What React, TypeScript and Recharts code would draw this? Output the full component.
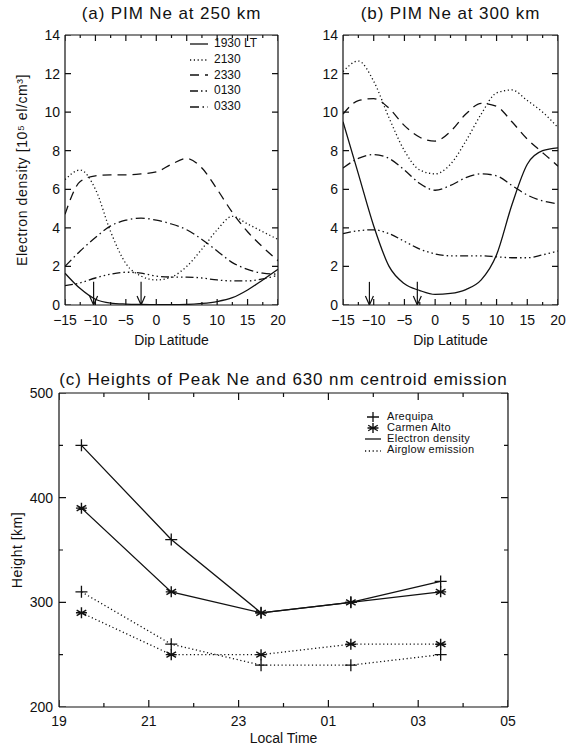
import React from 'react';
import { ComposedChart, Line, Scatter, XAxis, YAxis, ReferenceLine } from 'recharts';

const FONT = '"Liberation Sans", Arial, Helvetica, sans-serif';
const INK = '#111';

// dip latitude grid shared by both PIM panels
const latitudes = [-15, -12.5, -10, -7.5, -5, -2.5, 0, 2.5, 5, 7.5, 10, 12.5, 15, 17.5, 20];
const latMajorTicks = [-15, -10, -5, 0, 5, 10, 15, 20];
const latMinorTicks = [-12.5, -7.5, -2.5, 2.5, 7.5, 12.5, 17.5];
const neTicks = [0, 2, 4, 6, 8, 10, 12, 14];

// (a) PIM Ne at 250 km  [10^5 el/cm3]
const a1930 = [1.65, 0.85, 0.3, 0.1, 0.05, 0.03, 0.02, 0.02, 0.03, 0.08, 0.18, 0.38, 0.78, 1.3, 1.85];
const a2130 = [6.5, 7.0, 6.0, 3.8, 2.15, 1.5, 1.3, 1.45, 2.0, 2.9, 3.9, 4.6, 4.2, 3.8, 3.4];
const a2330 = [4.7, 6.4, 6.7, 6.75, 6.75, 6.8, 6.9, 7.3, 7.6, 7.1, 6.0, 4.8, 3.8, 3.0, 2.3];
const a0130 = [1.0, 1.15, 1.4, 1.6, 1.7, 1.65, 1.5, 1.45, 1.45, 1.4, 1.3, 1.25, 1.25, 1.35, 1.55];
const a0330 = [2.0, 2.8, 3.5, 4.1, 4.4, 4.5, 4.4, 4.2, 3.9, 3.4, 2.8, 2.2, 1.85, 1.65, 1.6];

// (b) PIM Ne at 300 km
const b1930 = [9.5, 6.8, 4.1, 2.0, 1.1, 0.75, 0.55, 0.6, 0.8, 1.3, 2.6, 5.2, 7.3, 8.0, 8.15];
const b2130 = [12.1, 12.65, 11.6, 9.7, 8.0, 7.0, 6.8, 7.3, 8.5, 9.9, 11.0, 11.15, 10.6, 10.0, 9.2];
const b2330 = [9.9, 10.6, 10.7, 10.2, 9.3, 8.7, 8.5, 9.0, 9.9, 10.45, 10.3, 9.5, 8.6, 7.9, 7.2];
const b0130 = [3.7, 3.85, 3.9, 3.7, 3.3, 2.9, 2.65, 2.55, 2.55, 2.55, 2.5, 2.45, 2.45, 2.6, 2.8];
const b0330 = [7.1, 7.6, 7.8, 7.6, 7.0, 6.3, 5.95, 6.2, 6.6, 6.8, 6.7, 6.2, 5.7, 5.4, 5.25];

// station latitudes marked with arrows
const arrowsA = [-10.3, -2.5];
const arrowsB = [-10.7, -2.9];
const arrowTop = 1.2;

// (c) heights vs local time (hours past 19 LT, 25 = 01 LT)
const localTimes = [19.5, 21.5, 23.5, 25.5, 27.5];
const arequipaNe = [450, 360, 290, 300, 320];
const carmenNe = [390, 310, 290, 300, 310];
const arequipaGlow = [310, 260, 240, 240, 250];
const carmenGlow = [290, 250, 250, 260, 260];
const timeMajorTicks = [19, 21, 23, 25, 27, 29];
const timeMinorTicks = [20, 22, 24, 26, 28];
const heightTicks = [200, 300, 400, 500];
const heightMinorTicks = [250, 350, 450];

const seriesStyles = [
  { key: 'lt1930', label: '1930 LT', dash: undefined as string | undefined },
  { key: 'lt2130', label: '2130', dash: '1.2 2.6' },
  { key: 'lt2330', label: '2330', dash: '9 6' },
  { key: 'lt0130', label: '0130', dash: '8 3 1.5 3 1.5 3 1.5 3' },
  { key: 'lt0330', label: '0330', dash: '9 3.5 1.5 3.5' },
];

const toRows = (cols: number[][]) =>
  latitudes.map((lat, i) => {
    const row: Record<string, number> = { lat };
    seriesStyles.forEach((s, k) => {
      row[s.key] = cols[k][i];
    });
    return row;
  });

const fmtLat = (v: number) => (v < 0 ? `\u2212${-v}` : `${v}`);
const fmtTime = (v: number) => String(v % 24).padStart(2, '0');

const tickStyle = { fill: INK, fontSize: 14, fontFamily: FONT };

// IDL style frame: top/right border plus inward ticks on all four sides.
// Each side's ticks are one broken Line series (null rows split the segments).
function frame(xKey: string, xDom: number[], yDom: number[], plotW: number, plotH: number,
  xMajor: number[], xMinor: number[], yMajor: number[], yMinor: number[], major: number, minor: number) {
  const ux = (xDom[1] - xDom[0]) / plotW;
  const uy = (yDom[1] - yDom[0]) / plotH;
  const vert = (list: number[], y0: number, dir: number, px: number) =>
    list.flatMap((v) => [{ [xKey]: v, tk: y0 }, { [xKey]: v, tk: y0 + dir * px * uy }, { [xKey]: v, tk: null }]);
  const horiz = (list: number[], x0: number, dir: number, px: number) =>
    list.flatMap((v) => [{ [xKey]: x0, tk: v }, { [xKey]: x0 + dir * px * ux, tk: v }, { [xKey]: x0, tk: null }]);
  const sets = [
    { id: 'bM', data: vert(xMajor, yDom[0], 1, major) },
    { id: 'tM', data: vert(xMajor, yDom[1], -1, major) },
    { id: 'bm', data: vert(xMinor, yDom[0], 1, minor) },
    { id: 'tm', data: vert(xMinor, yDom[1], -1, minor) },
    { id: 'lM', data: horiz(yMajor, xDom[0], 1, major) },
    { id: 'rM', data: horiz(yMajor, xDom[1], -1, major) },
    { id: 'lm', data: horiz(yMinor, xDom[0], 1, minor) },
    { id: 'rm', data: horiz(yMinor, xDom[1], -1, minor) },
  ].filter((s) => s.data.length > 0);
  return [
    <ReferenceLine key="top" y={yDom[1]} stroke={INK} strokeWidth={1.2} />,
    <ReferenceLine key="right" x={xDom[1]} stroke={INK} strokeWidth={1.2} />,
    ...sets.map((s) => (
      <Line key={s.id} data={s.data} dataKey="tk" type="linear" stroke={INK} strokeWidth={1.2}
        dot={false} activeDot={false} connectNulls={false} legendType="none" isAnimationActive={false} />
    )),
  ];
}

const ArrowHead = (props: any) => {
  const { cx, cy } = props;
  if (cx == null || cy == null) return <g />;
  return <path d={`M${cx - 4},${cy - 9}L${cx},${cy}L${cx + 4},${cy - 9}`} fill="none" stroke={INK} strokeWidth={1.2} />;
};

const PlusDot = (props: any) => {
  const { cx, cy } = props;
  if (cx == null || cy == null) return null;
  return <path d={`M${cx - 6},${cy}H${cx + 6}M${cx},${cy - 6}V${cy + 6}`} stroke={INK} strokeWidth={1.3} fill="none" />;
};

const StarDot = (props: any) => {
  const { cx, cy } = props;
  if (cx == null || cy == null) return null;
  const r = 5.5;
  const dx = r * 0.87;
  const dy = r * 0.5;
  return (
    <path
      d={`M${cx},${cy - r}V${cy + r}M${cx - dx},${cy - dy}L${cx + dx},${cy + dy}M${cx - dx},${cy + dy}L${cx + dx},${cy - dy}M${cx - r},${cy}H${cx + r}`}
      stroke={INK}
      strokeWidth={1.4}
      fill="none"
    />
  );
};

const W = 287;
const H = 347;
const TOP = 35;
const XAXIS_H = 42;

type PanelProps = {
  title: string;
  cols: number[][];
  arrows: number[];
  left: number;
  axisW: number;
  rightM: number;
  yLabel?: string;
  legend?: boolean;
};

function DensityPanel({ title, cols, arrows, left, axisW, rightM, yLabel, legend }: PanelProps) {
  const rows = toRows(cols);
  const arrowPts = arrows.map((lat) => ({ lat, tip: 0 }));
  const plotW = W - axisW - rightM;
  const plotH = H - TOP - XAXIS_H;

  return (
    <div style={{ position: 'absolute', left, top: 0, width: W, height: H }}>
      <div
        style={{
          position: 'absolute',
          left: axisW,
          width: plotW,
          top: 4,
          textAlign: 'center',
          fontSize: 17,
          letterSpacing: 0.9,
          whiteSpace: 'nowrap',
        }}
      >
        {title}
      </div>
      <ComposedChart width={W} height={H} data={rows} margin={{ top: TOP, right: rightM, bottom: 0, left: 0 }}>
        <XAxis type="number" dataKey="lat" domain={[-15, 20]} allowDataOverflow ticks={latMajorTicks} interval={0}
          tickFormatter={fmtLat} tick={tickStyle} tickLine={false} tickSize={0} tickMargin={10} height={XAXIS_H}
          stroke={INK} strokeWidth={1.2}
          label={{ value: 'Dip Latitude', position: 'insideBottom', offset: 2, fill: INK, fontSize: 14, fontFamily: FONT }} />
        <YAxis type="number" domain={[0, 14]} allowDataOverflow ticks={neTicks} interval={0} width={axisW}
          tick={tickStyle} tickLine={false} tickSize={0} tickMargin={5} stroke={INK} strokeWidth={1.2}
          label={yLabel ? { value: yLabel, angle: -90, position: 'insideLeft', offset: 22, fill: INK, fontSize: 14,
            fontFamily: FONT, style: { textAnchor: 'middle', letterSpacing: 0.6 } } : undefined} />
        {frame('lat', [-15, 20], [0, 14], plotW, plotH, latMajorTicks, latMinorTicks, neTicks, [], 6, 3)}
        {seriesStyles.map((s) => (
          <Line key={s.key} dataKey={s.key} type="monotone" stroke={INK} strokeWidth={1.3}
            strokeDasharray={s.dash} dot={false} activeDot={false} isAnimationActive={false} />
        ))}
        {arrows.map((lat) => (
          <ReferenceLine key={lat} segment={[{ x: lat, y: 0 }, { x: lat, y: arrowTop }]} stroke={INK} strokeWidth={1.2} />
        ))}
        <Scatter data={arrowPts} dataKey="tip" shape={<ArrowHead />} isAnimationActive={false} />
      </ComposedChart>
      {legend && (
        <div style={{ position: 'absolute', left: 190, top: 36, fontSize: 12, lineHeight: '15.8px' }}>
          {seriesStyles.map((s) => (
            <div key={s.key} style={{ display: 'flex', alignItems: 'center', height: 15.8 }}>
              <svg width={18} height={10} style={{ marginRight: 6 }}>
                <line x1={0} y1={5} x2={18} y2={5} stroke={INK} strokeWidth={1.3} strokeDasharray={s.dash} />
              </svg>
              <span>{s.label}</span>
            </div>
          ))}
        </div>
      )}
    </div>
  );
}

const heightRows = localTimes.map((t, i) => ({
  t,
  arequipaNe: arequipaNe[i],
  carmenNe: carmenNe[i],
  arequipaGlow: arequipaGlow[i],
  carmenGlow: carmenGlow[i],
}));

const heightSeries = [
  { key: 'arequipaNe', dash: undefined as string | undefined, Dot: PlusDot },
  { key: 'carmenNe', dash: undefined as string | undefined, Dot: StarDot },
  { key: 'arequipaGlow', dash: '1.2 2.6', Dot: PlusDot },
  { key: 'carmenGlow', dash: '1.2 2.6', Dot: StarDot },
];

const legendRows = [
  { label: 'Arequipa', kind: 'plus' },
  { label: 'Carmen Alto', kind: 'star' },
  { label: 'Electron density', kind: 'solid' },
  { label: 'Airglow emission', kind: 'dot' },
];

function HeightPanel() {
  const top = 347;
  const axisW = 59;
  const rightM = 66;
  const marginTop = 46;
  const xAxisH = 40;
  const plotW = 574 - axisW - rightM;
  const plotH = 400 - marginTop - xAxisH;
  return (
    <div style={{ position: 'absolute', left: 0, top, width: 574, height: 400 }}>
      <div
        style={{
          position: 'absolute',
          left: axisW,
          width: plotW,
          top: 23,
          textAlign: 'center',
          fontSize: 17,
          letterSpacing: 0.9,
          whiteSpace: 'nowrap',
        }}
      >
        (c) Heights of Peak Ne and 630 nm centroid emission
      </div>
      <ComposedChart width={574} height={400} data={heightRows} margin={{ top: marginTop, right: rightM, bottom: 0, left: 0 }}>
        <XAxis type="number" dataKey="t" domain={[19, 29]} allowDataOverflow ticks={timeMajorTicks} interval={0}
          tickFormatter={fmtTime} tick={tickStyle} tickLine={false} tickSize={0} tickMargin={9} height={xAxisH}
          stroke={INK} strokeWidth={1.2}
          label={{ value: 'Local Time', position: 'insideBottom', offset: 4, fill: INK, fontSize: 14, fontFamily: FONT }} />
        <YAxis type="number" domain={[200, 500]} allowDataOverflow ticks={heightTicks} interval={0} width={axisW}
          tick={tickStyle} tickLine={false} tickSize={0} tickMargin={6} stroke={INK} strokeWidth={1.2}
          label={{ value: 'Height [km]', angle: -90, position: 'insideLeft', offset: 17, fill: INK, fontSize: 14,
            fontFamily: FONT, style: { textAnchor: 'middle', letterSpacing: 0.5 } }} />
        {frame('t', [19, 29], [200, 500], plotW, plotH, timeMajorTicks, timeMinorTicks, heightTicks, heightMinorTicks, 7, 4)}
        {heightSeries.map((s) => (
          <Line key={s.key} dataKey={s.key} type="linear" stroke={INK} strokeWidth={1.3}
            strokeDasharray={s.dash} dot={(p: any) => <s.Dot key={`${s.key}-${p.index}`} {...p} />}
            activeDot={false} isAnimationActive={false} />
        ))}
      </ComposedChart>
      <div style={{ position: 'absolute', left: 365, top: 64, fontSize: 11, lineHeight: '11px' }}>
        {legendRows.map((r) => (
          <div key={r.label} style={{ display: 'flex', alignItems: 'center', height: 11 }}>
            <svg width={16} height={10} style={{ marginRight: 6 }}>
              {r.kind === 'plus' && <PlusDot cx={8} cy={5} />}
              {r.kind === 'star' && <StarDot cx={8} cy={5} />}
              {r.kind === 'solid' && <line x1={0} y1={5} x2={16} y2={5} stroke={INK} strokeWidth={1.3} />}
              {r.kind === 'dot' && <line x1={0} y1={6} x2={16} y2={6} stroke={INK} strokeWidth={1.3} strokeDasharray="1.2 2.6" />}
            </svg>
            <span style={{ letterSpacing: 0.3 }}>{r.label}</span>
          </div>
        ))}
      </div>
    </div>
  );
}

export default function App() {
  return (
    <div
      style={{
        position: 'absolute',
        left: 0,
        top: 0,
        width: 574,
        height: 747,
        background: '#fff',
        color: INK,
        fontFamily: FONT,
        overflow: 'hidden',
      }}
    >
      <DensityPanel
        title="(a) PIM Ne at 250 km"
        cols={[a1930, a2130, a2330, a0130, a0330]}
        arrows={arrowsA}
        left={0}
        axisW={65}
        rightM={9}
        yLabel="Electron density [10⁵ el/cm³]"
        legend
      />
      <DensityPanel
        title="(b) PIM Ne at 300 km"
        cols={[b1930, b2130, b2330, b0130, b0330]}
        arrows={arrowsB}
        left={287}
        axisW={56}
        rightM={16}
      />
      <HeightPanel />
    </div>
  );
}
